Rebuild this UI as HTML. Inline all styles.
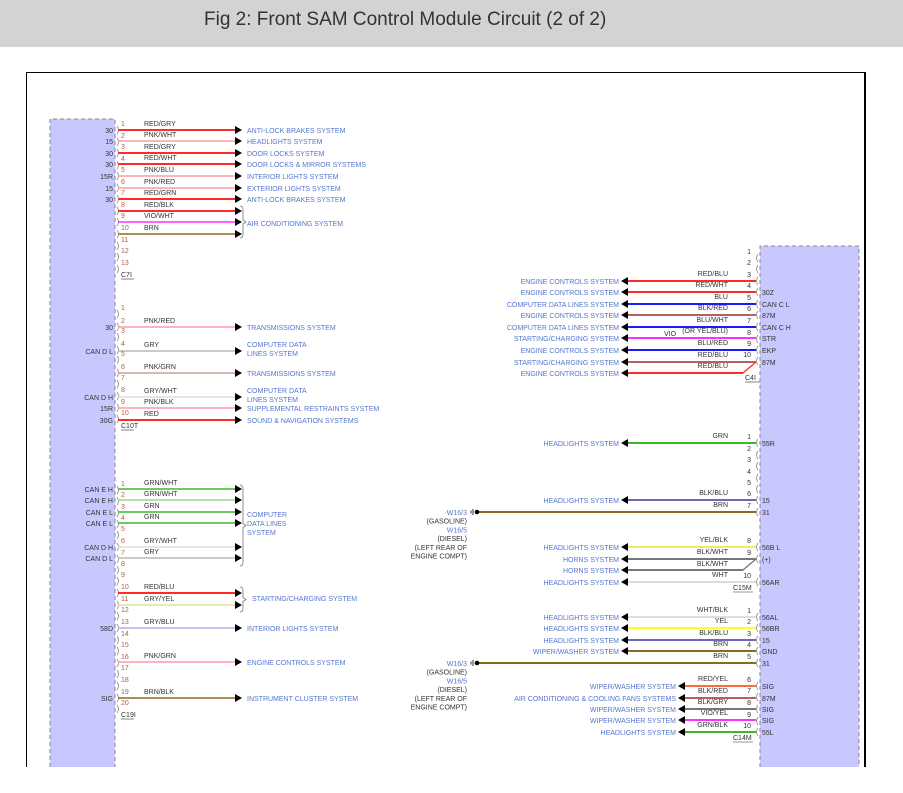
<!DOCTYPE html>
<html><head><meta charset="utf-8"><style>
html,body{margin:0;width:903px;height:793px;overflow:hidden;background:#fff;font-family:"Liberation Sans",sans-serif}
#hd{position:absolute;left:0;top:0;width:903px;height:47px;background:#d3d3d3}
#hd div{position:absolute;left:204px;top:9px;font-size:19px;color:#333;font-family:"Liberation Sans Narrow","Liberation Sans",sans-serif}
svg{position:absolute;left:0;top:0;overflow:hidden}
</style></head><body>
<div id="hd"><div>Fig 2: Front SAM Control Module Circuit (2 of 2)</div></div>
<svg id="s" width="903" height="793" font-family="Liberation Sans, sans-serif" font-size="7"></svg>
<script>
const C={RED:'#ff2a2a',PNK:'#ff9aaa',BRN:'#8b6a1e',VIO:'#ff30ff',GRY:'#b8b8b8',GRN:'#3bb82a',BLU:'#1a1aff',BLKR:'#b86060',YEL:'#ffff20',BLK:'#777',WHT:'#ddd',YB:'#ecec60',GB:'#b0b0e0',BB:'#6a6ab0',PG:'#c8a090',GW:'#9ad88a',GYE:'#e0e0a0',RY:'#ff6a40'};
let h='';
const T='#5577cc',P='#b06040',D='#333';
function t(x,y,s,c,a){h+=`<text x="${x}" y="${y}" fill="${c}"${a?` text-anchor="${a}"`:''}>${s}</text>`}
function l(x1,y1,x2,y2,c,w){h+=`<line x1="${x1}" y1="${y1}" x2="${x2}" y2="${y2}" stroke="${c}" stroke-width="${w||2}"/>`}
function ar(x,y,d){h+=d>0?`<path d="M${x-7} ${y-4}L${x} ${y}L${x-7} ${y+4}Z"/>`:`<path d="M${x+7} ${y-4}L${x} ${y}L${x+7} ${y+4}Z"/>`}
function cl(x,y){h+=`<path d="M${x} ${y-4}q3 4 0 8" fill="none" stroke="#888" stroke-width=".8"/>`}
function cr(x,y){h+=`<path d="M${x} ${y-4}q-3 4 0 8" fill="none" stroke="#888" stroke-width=".8"/>`}
h+=`<path d="M26.5 767V72.5H864.5V767" fill="none" stroke="#000" stroke-width="1"/><line x1="865" y1="72" x2="865" y2="767" stroke="#000" stroke-width="2"/>`;
h+=`<path d="M50 767V119H115V767" fill="#c8c8ff" stroke="#888" stroke-dasharray="4,3"/>`;
h+=`<path d="M760 767V246H859V767" fill="#c8c8ff" stroke="#888" stroke-dasharray="4,3"/>`;
const L=[
[126,1,130,C.RED,'RED/GRY','30','ANTI-LOCK BRAKES SYSTEM'],[138,2,141,C.PNK,'PNK/WHT','15','HEADLIGHTS SYSTEM'],[149,3,153,C.RED,'RED/GRY','30','DOOR LOCKS SYSTEM'],[161,4,164,C.RED,'RED/WHT','30','DOOR LOCKS &amp; MIRROR SYSTEMS'],[172,5,176,C.PNK,'PNK/BLU','15R','INTERIOR LIGHTS SYSTEM'],[184,6,188,C.PNK,'PNK/RED','15','EXTERIOR LIGHTS SYSTEM'],[195,7,199,C.RED,'RED/GRN','30','ANTI-LOCK BRAKES SYSTEM'],[207,8,211,C.RED,'RED/BLK','',''],[218,9,222,C.VIO,'VIO/WHT','',''],[230,10,234,C.BRN,'BRN','',''],[242,11],[253,12],[265,13],
[310,1],[323,2,327,C.PNK,'PNK/RED','30','TRANSMISSIONS SYSTEM'],[333,3],[346,4,351,C.GRY,'GRY','CAN D L',''],[356,5],[369,6,373,C.PG,'PNK/GRN','',''],[380,7],[392,8,397,C.WHT,'GRY/WHT','CAN D H',''],[404,9,408,C.PNK,'PNK/BLK','15R','SUPPLEMENTAL RESTRAINTS SYSTEM'],[415,10,420,C.RED,'RED','30G','SOUND &amp; NAVIGATION SYSTEMS'],
[486,1,489,C.GRN,'GRN/WHT','CAN E H',''],[497,2,500,C.GW,'GRN/WHT','CAN E H',''],[509,3,512,C.GRN,'GRN','CAN E L',''],[520,4,523,C.GRN,'GRN','CAN E L',''],[531,5],[543,6,547,C.WHT,'GRY/WHT','CAN D H',''],[555,7,558,C.GRY,'GRY','CAN D L',''],[566,8],[577,9],[589,10,593,C.RED,'RED/BLU','',''],[601,11,605,C.GYE,'GRY/YEL','',''],[612,12],[624,13,628,C.GB,'GRY/BLU','58D','INTERIOR LIGHTS SYSTEM'],[636,14],[647,15],[659,16,662,C.PNK,'PNK/GRN','','ENGINE CONTROLS SYSTEM'],[670,17],[682,18],[694,19,698,C.BRN,'BRN/BLK','SIG','INSTRUMENT CLUSTER SYSTEM'],[705,20]];
for(const r of L){t(121,r[0],r[1],P);cl(117,r[0]+4);
 if(r[2]){l(118,r[2],235,r[2],r[3],r[3]==C.RED?2:1.6);ar(242,r[2],1);t(144,r[2]-4,r[4],D);if(r[5])t(113,r[2]+3,r[5],D,'end');if(r[6])t(247,r[2]+3,r[6],T);}}
[[121,277,'C7I'],[121,428,'C10T'],[121,717,'C19I']].forEach(a=>{t(a[0],a[1],a[2],D);l(a[0],a[1]+2,a[0]+13,a[1]+2,D,.6)});
t(247,226,'AIR CONDITIONING SYSTEM',T);
t(247,347,'COMPUTER DATA',T);t(247,356,'LINES SYSTEM',T);t(247,376,'TRANSMISSIONS SYSTEM',T);t(247,393,'COMPUTER DATA',T);t(247,402,'LINES SYSTEM',T);
t(247,517,'COMPUTER',T);t(247,526,'DATA LINES',T);t(247,535,'SYSTEM',T);t(252,601,'STARTING/CHARGING SYSTEM',T);
function br(x,y1,y2){h+=`<path d="M${x} ${y1}q3 0 3 4V${(y1+y2)/2-2}l3 2l-3 2V${y2-4}q0 4-3 4" fill="none" stroke="#777" stroke-width=".8"/>`}
br(240,206,238);br(240,485,566);br(240,587,612);
const R=[[254,1],[265,2],[277,3,281,C.RED,'RED/BLU','','ENGINE CONTROLS SYSTEM'],[288,4,292,C.RED,'RED/WHT','30Z','ENGINE CONTROLS SYSTEM'],[300,5,304,C.BLU,'BLU','CAN C L','COMPUTER DATA LINES SYSTEM'],[311,6,315,C.BLKR,'BLK/RED','87M','ENGINE CONTROLS SYSTEM'],[323,7,327,C.BLU,'BLU/WHT','CAN C H','COMPUTER DATA LINES SYSTEM'],[335,8,338,C.VIO,'(OR YEL/BLU)','STR','STARTING/CHARGING SYSTEM'],[346,9,350,C.BLU,'BLU/RED','EKP','ENGINE CONTROLS SYSTEM'],[357,10,362,C.BLKR,'RED/BLU','87M','STARTING/CHARGING SYSTEM'],
[439,1,443,C.GRN,'GRN','55R','HEADLIGHTS SYSTEM'],[451,2],[462,3],[474,4],[485,5],[496,6,500,C.BB,'BLK/BLU','15','HEADLIGHTS SYSTEM'],[508,7,512,C.BRN,'BRN','31','',478],[543,8,547,C.YB,'YEL/BLK','56B L','HEADLIGHTS SYSTEM'],[555,9,559,C.BLK,'BLK/WHT','(+)','HORNS SYSTEM'],[578,10,582,C.WHT,'WHT','56AR','HEADLIGHTS SYSTEM'],
[613,1,617,C.WHT,'WHT/BLK','56AL','HEADLIGHTS SYSTEM'],[624,2,628,C.YEL,'YEL','56BR','HEADLIGHTS SYSTEM'],[636,3,640,C.BB,'BLK/BLU','15','HEADLIGHTS SYSTEM'],[647,4,651,C.BRN,'BRN','GND','WIPER/WASHER SYSTEM'],[659,5,663,C.BRN,'BRN','31','',478],[682,6,686,C.RY,'RED/YEL','SIG','WIPER/WASHER SYSTEM',685],[693,7,698,C.BLKR,'BLK/RED','87M','AIR CONDITIONING &amp; COOLING FANS SYSTEMS',685],[705,8,709,C.BLK,'BLK/GRY','SIG','WIPER/WASHER SYSTEM',685],[717,9,720,C.VIO,'VIO/YEL','SIG','WIPER/WASHER SYSTEM',685],[728,10,732,C.GRN,'GRN/BLK','55L','HEADLIGHTS SYSTEM',685]];
for(const r of R){t(751,r[0],r[1],D,'end');cr(758,r[0]+4);
 if(r[2]){const sx=r[7]||628;l(sx,r[2],756,r[2],r[3],2);t(728,r[2]-5,r[4],D,'end');if(r[5])t(762,r[2]+3,r[5],D);
 if(r[6]){ar(sx-7,r[2],-1);t(sx-9,r[2]+3,r[6],T,'end');}}}
t(664,336,'VIO',D);
l(628,373,743,373,C.RED,2);l(743,373,756,362,C.RED,1.3);ar(621,373,-1);t(619,376,'ENGINE CONTROLS SYSTEM',T,'end');t(728,368,'RED/BLU',D,'end');
l(628,570,743,570,C.BLK,2);l(743,570,756,559,C.BLK,1.3);ar(621,570,-1);t(619,573,'HORNS SYSTEM',T,'end');t(728,566,'BLK/WHT',D,'end');
[[745,380,'C4I'],[733,590,'C15M'],[733,740,'C14M']].forEach(a=>{t(a[0],a[1],a[2],D);l(a[0],a[1]+2,a[0]+a[2].length*5,a[1]+2,D,.6)});
function gnd(y){h+=`<circle cx="477" cy="${y}" r="2.3" fill="#000"/><line x1="473" y1="${y-3}" x2="473" y2="${y+3}" stroke="#000" stroke-width=".8"/><line x1="471" y1="${y-1.5}" x2="471" y2="${y+1.5}" stroke="#000" stroke-width=".8"/>`;
 ['W16/3','(GASOLINE)','W16/5','(DIESEL)','(LEFT REAR OF','ENGINE COMPT)'].forEach((s,i)=>t(467,y+3+i*8.7,s,i<4&&i%2==0?T:D,'end'))}
gnd(512);gnd(663);
document.getElementById('s').innerHTML=h;
</script>
</body></html>
